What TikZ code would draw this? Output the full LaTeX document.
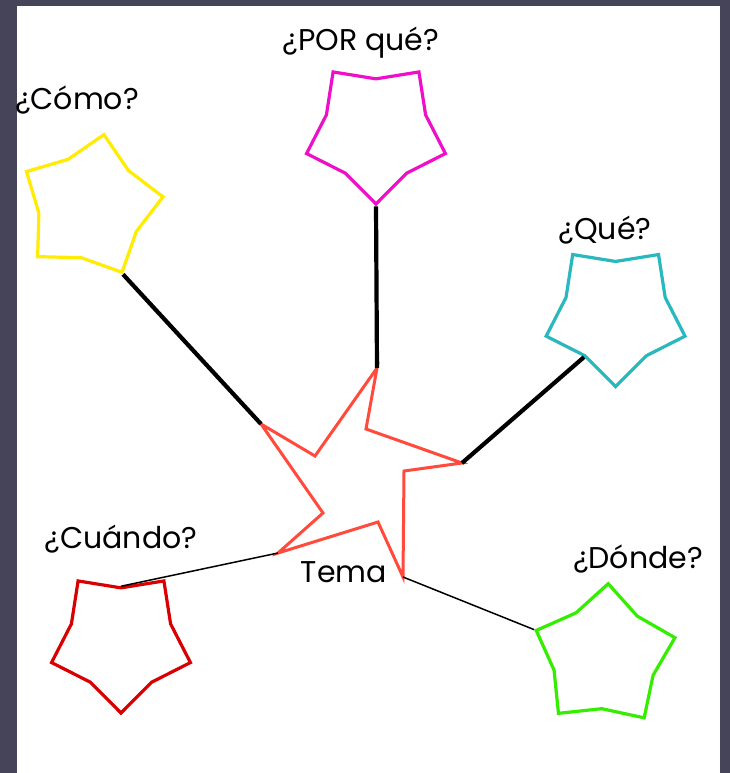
\documentclass[tikz,border=0pt]{standalone}
\usepackage{fontspec}
\setmainfont{Poppins}
\usetikzlibrary{shapes.geometric}
\definecolor{frame}{RGB}{70,68,88}
\definecolor{ccomo}{RGB}{255,236,0}
\definecolor{cporque}{RGB}{238,16,200}
\definecolor{cque}{RGB}{40,184,190}
\definecolor{ccuando}{RGB}{216,0,0}
\definecolor{cdonde}{RGB}{52,238,0}
\definecolor{ctema}{RGB}{255,74,60}
\tikzset{
  blob/.style={draw=#1,star,star points=5,star point ratio=1.4,
    minimum size=146pt,inner sep=0pt,line width=3.2pt},
  question/.style={font=\fontsize{30}{34}\selectfont},
  mainlink/.style={line width=4.2pt},
  sidelink/.style={line width=1.5pt}
}

\begin{document}
\begin{tikzpicture}[x=1pt,y=-1pt]
\fill[frame] (0,0) rectangle (730,773);
\fill[white] (17,6) rectangle (720,773);
\useasboundingbox (0,0) rectangle (730,773);

% the five small stars
\node[blob=ccomo,shape border rotate=-10.5] (como) at (90.6,206.4) {};
\node[blob=cporque,shape border rotate=180] (porque) at (376,131) {};
\node[blob=cque,shape border rotate=180] (que) at (615.6,313.6) {};
\node[blob=ccuando,shape border rotate=180] (cuando) at (121,640) {};
\node[blob=cdonde,shape border rotate=-3] (donde) at (604.4,656.6) {};

% the central star
\coordinate (t1) at (377,368);
\coordinate (s1) at (366,429);
\coordinate (t2) at (462,463);
\coordinate (s2) at (404,471);
\coordinate (t3) at (403,577);
\coordinate (s3) at (378,522);
\coordinate (t4) at (278,553);
\coordinate (s4) at (323,513);
\coordinate (t5) at (261,424);
\coordinate (s5) at (315,456);
\draw[ctema,line width=3pt] (t1) -- (s1) -- (t2) -- (s2) -- (t3) -- (s3)
  -- (t4) -- (s4) -- (t5) -- (s5) -- cycle;

% labels
\node[question] (lcomo) at (77,100) {¿Cómo?};
\node[question] (lporque) at (361,43) {¿POR qué?};
\node[question] (lque) at (605,230) {¿Qué?};
\node[question] (lcuando) at (121,539) {¿Cuándo?};
\node[question] (ldonde) at (638,559) {¿Dónde?};
\node[question] (ltema) at (344,572) {Tema};

% connectors
\draw[mainlink] (como.outer point 4) -- (t5);
\draw[mainlink] (porque.outer point 1) -- (t1);
\draw[mainlink] (que.inner point 5) -- (t2);
\draw[sidelink] (cuando.inner point 3) -- (t4);
\draw[sidelink] (t3) -- (donde.outer point 2);
\end{tikzpicture}
\end{document}
